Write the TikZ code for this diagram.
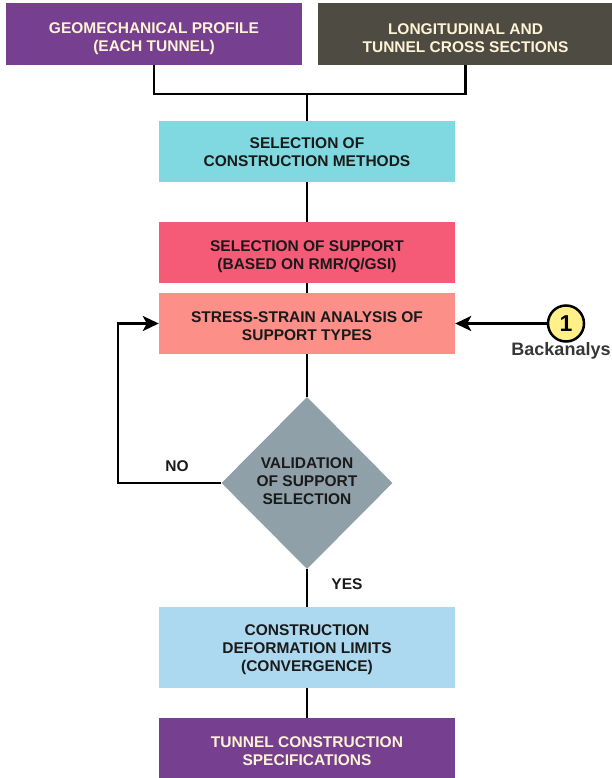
\documentclass[tikz,border=0pt]{standalone}
\usepackage{fontspec}
\setmainfont{Liberation Sans}
\usetikzlibrary{shapes.geometric,arrows.meta}
\definecolor{cpurple}{HTML}{763F8F}
\definecolor{cdark}{HTML}{4E4B43}
\definecolor{ccyan}{HTML}{80D9E0}
\definecolor{cred}{HTML}{F55B77}
\definecolor{csalmon}{HTML}{FC8F88}
\definecolor{cgray}{HTML}{8FA0A8}
\definecolor{clblue}{HTML}{ADD9F0}
\definecolor{ccream}{HTML}{FFF3D6}
\definecolor{cyel}{HTML}{FFF08A}
\definecolor{ctext}{HTML}{1A1A1A}
\tikzset{
  boxst/.style={rectangle, minimum width=296pt, minimum height=61pt, inner sep=0pt},
  txt/.style={align=center, inner sep=0pt, font=\fontsize{15.5}{18}\selectfont\bfseries, text=ctext},
  lighttxt/.style={txt, text=ccream},
  conn/.style={line width=2.5pt, black},
  arr/.style={conn, -{Stealth[length=16pt, width=15pt, inset=4pt]}},
}
\begin{document}
\begin{tikzpicture}[x=1pt, y=-1pt]
\useasboundingbox (0,0) rectangle (612,778);
% boxes
\node[boxst, fill=cpurple, minimum width=296pt, minimum height=62pt] (b1) at (154,34) {};
\node[boxst, fill=cdark, minimum width=295pt, minimum height=62pt] (b2) at (465.5,34) {};
\node[boxst, fill=ccyan] (b3) at (307,151.5) {};
\node[boxst, fill=cred] (b4) at (307,252.5) {};
\node[boxst, fill=csalmon] (b5) at (307,323.5) {};
\node[diamond, fill=cgray, minimum width=171pt, minimum height=172pt, inner sep=0pt] (d) at (307,483) {};
\node[boxst, fill=clblue, minimum height=81pt] (b6) at (307,647.5) {};
\node[boxst, fill=cpurple, minimum height=62pt] (b7) at (307,749) {};
% texts
\node[lighttxt] (t1) at ([yshift=-4.5pt]b1.center) {GEOMECHANICAL PROFILE\\(EACH TUNNEL)};
\node[lighttxt] (t2) at ([yshift=-4.5pt]b2.center) {LONGITUDINAL AND\\TUNNEL CROSS SECTIONS};
\node[txt] (t3) at ([yshift=-0.5pt]b3.center) {SELECTION OF\\CONSTRUCTION METHODS};
\node[txt] (t4) at ([yshift=-4pt]b4.center) {SELECTION OF SUPPORT\\(BASED ON RMR/Q/GSI)};
\node[txt] (t5) at ([yshift=-3pt]b5.center) {STRESS-STRAIN ANALYSIS OF\\SUPPORT TYPES};
\node[txt] (td) at ([yshift=2pt]d.center) {VALIDATION\\OF SUPPORT\\SELECTION};
\node[txt] (t6) at ([yshift=-2.5pt]b6.center) {CONSTRUCTION\\DEFORMATION LIMITS\\(CONVERGENCE)};
\node[lighttxt] (t7) at ([yshift=-2.5pt]b7.center) {TUNNEL CONSTRUCTION\\SPECIFICATIONS};
% circle and labels
\node[circle, draw=black, line width=2.5pt, fill=cyel, minimum size=36pt, inner sep=0pt,
  font=\fontsize{23}{24}\selectfont\bfseries] (c1) at (566,323.5) {1};
\node[font=\fontsize{18}{20}\selectfont\bfseries, text=ctext!88!white] (bk) at (561,351) {Backanalys};
\node[txt] (no) at (177,466) {NO};
\node[txt] (yes) at (347,584) {YES};
% connectors
\coordinate (j) at (307,94);
\coordinate (lp) at (118,483);
\draw[conn] (b1.south) |- (j);
\draw[conn] (b2.south) |- (j);
\draw[conn] (j) -- (b3.north);
\draw[conn] (b3) -- (b4);
\draw[conn] (b4) -- (b5);
\draw[conn] (b5) -- (d.north);
\draw[conn] (d.south) -- (b6.north);
\draw[conn] (b6) -- (b7);
\draw[arr] (c1.west) -- (b5.east);
\draw[arr] (d.west) -- (lp) |- (b5.west);
\end{tikzpicture}
\end{document}
